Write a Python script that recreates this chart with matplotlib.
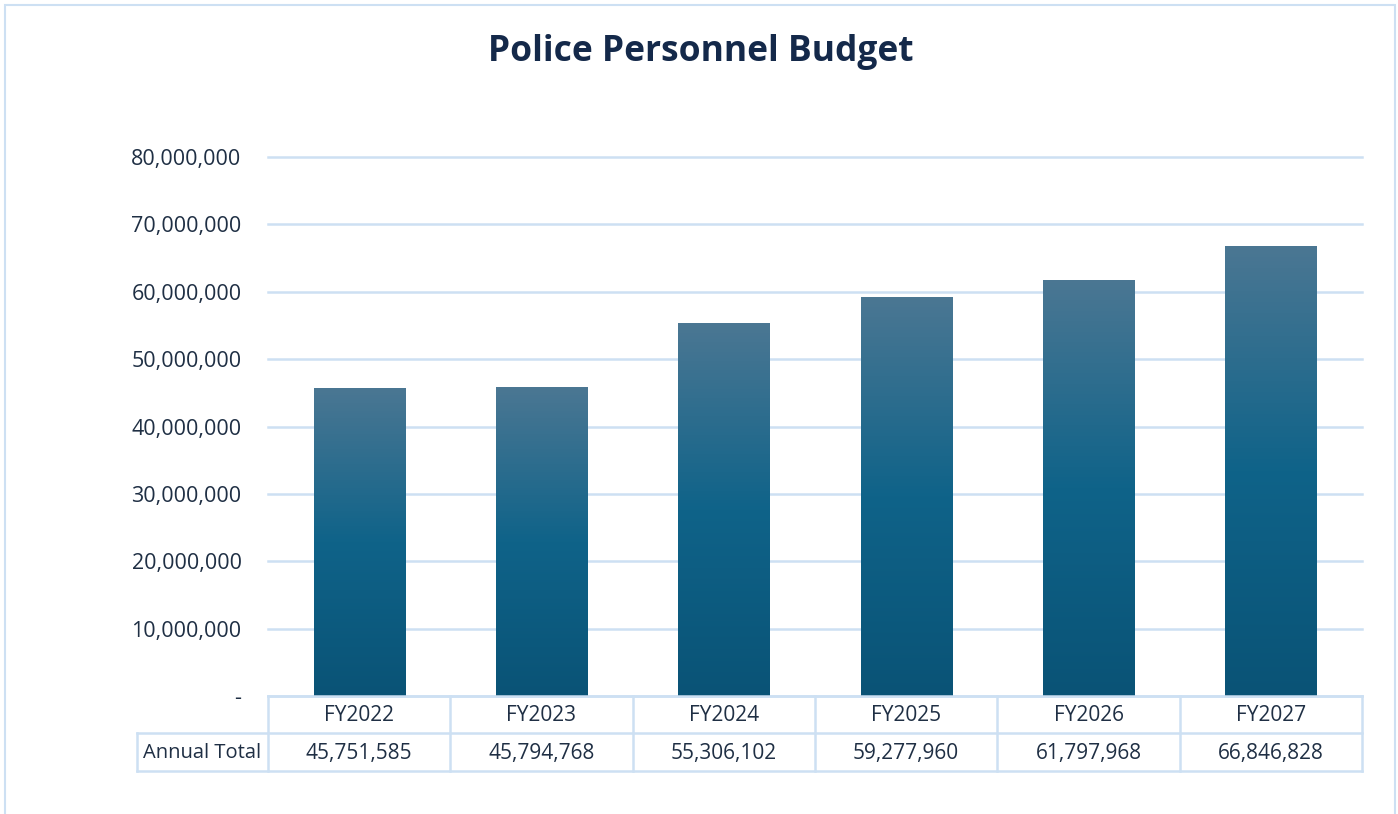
import matplotlib
matplotlib.use("Agg")
import matplotlib.pyplot as plt
import numpy as np
from matplotlib.patches import Rectangle
from matplotlib.colors import LinearSegmentedColormap
from matplotlib.ticker import FuncFormatter, MultipleLocator

categories = ["FY2022", "FY2023", "FY2024", "FY2025", "FY2026", "FY2027"]
values = [45751585, 45794768, 55306102, 59277960, 61797968, 66846828]
row_label = "Annual Total"
title = "Police Personnel Budget"

W, H = 1398, 814
fig = plt.figure(figsize=(W / 100, H / 100), dpi=100)
plt.rcParams['font.family'] = ['Open Sans', 'DejaVu Sans']
txt = "#1f2f44"
grid_c = "#cde0f3"

def fx(px):
    return px / W

def fy(py):
    return 1 - py / H

# outer border (bottom edge lies outside the image)
fig.patches.append(Rectangle((fx(5), fy(830)), fx(1395) - fx(5), fy(5) - fy(830),
                             transform=fig.transFigure, fill=False, ec=grid_c, lw=1.5))

ax_l, ax_r, ax_t, ax_b = 268, 1362, 157, 696
ax = fig.add_axes([fx(ax_l), fy(ax_b), fx(ax_r) - fx(ax_l), fy(ax_t) - fy(ax_b)])
ax.set_xlim(-0.5, len(categories) - 0.5)
ax.set_ylim(0, 80e6)
for s in ax.spines.values():
    s.set_visible(False)
ax.yaxis.set_major_locator(MultipleLocator(10e6))
ax.yaxis.set_major_formatter(FuncFormatter(lambda v, p: "-" if v == 0 else f"{v:,.0f}"))
ax.tick_params(axis='y', length=0, pad=19, labelsize=15.5, labelcolor=txt)
ax.set_xticks([])
ax.grid(axis='y', color=grid_c, lw=1.8)
for gl in ax.get_ygridlines():
    gl.set_clip_on(False)
ax.set_axisbelow(True)

cmap = LinearSegmentedColormap.from_list("g", [(0, "#0a5376"), (0.5, "#0f6389"), (1.0, "#4b7793")])
grad = np.linspace(0, 1, 256).reshape(-1, 1)
x = np.arange(len(categories))
bars = ax.bar(x, values, width=0.5, color="none", zorder=3)
for b in bars:
    bx, bw, bh = b.get_x(), b.get_width(), b.get_height()
    im = ax.imshow(grad, cmap=cmap, origin='lower', aspect='auto',
                   extent=[bx, bx + bw, 0, bh], zorder=3)
    im.set_clip_path(b)

# table
col_edges = np.linspace(ax_l, ax_r, len(categories) + 1)
r1t, r1b, r2b = 696, 733, 771
lab_l = 137
tbl_lw = 1.8
def hline(y, x0, x1):
    fig.add_artist(plt.Line2D([fx(x0), fx(x1)], [fy(y), fy(y)], color=grid_c, lw=tbl_lw, transform=fig.transFigure))
def vline(xp, y0, y1):
    fig.add_artist(plt.Line2D([fx(xp), fx(xp)], [fy(y0), fy(y1)], color=grid_c, lw=tbl_lw, transform=fig.transFigure))

hline(r1t, ax_l, ax_r)
hline(r1b, lab_l, ax_r)
hline(r2b, lab_l, ax_r)
for e in col_edges:
    vline(e, r1t, r2b)
vline(lab_l, r1b, r2b)

fs_tbl = 15
for i, (c, v) in enumerate(zip(categories, values)):
    cx = (col_edges[i] + col_edges[i + 1]) / 2
    fig.text(fx(cx), fy((r1t + r1b) / 2 + 1), c, ha='center', va='center', fontsize=fs_tbl, color=txt)
    fig.text(fx(cx), fy((r1b + r2b) / 2 + 1), f"{v:,}", ha='center', va='center', fontsize=fs_tbl, color=txt)
fig.text(fx((lab_l + ax_l) / 2), fy((r1b + r2b) / 2 + 1), row_label, ha='center', va='center', fontsize=14.5, color=txt)

fig.text(fx(701), fy(52), title, ha='center', va='center', fontsize=25.5, fontweight='bold', color="#14294a")

fig.savefig("out.png", dpi=100, facecolor="white")
